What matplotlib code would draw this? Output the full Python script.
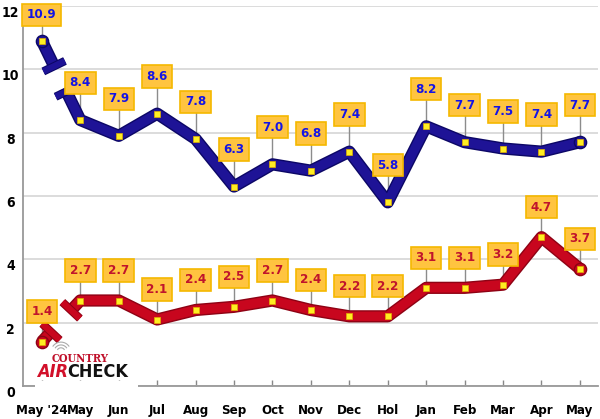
"""
Two-series monthly line chart with labelled points and a broken first segment
"""

import numpy as np
import matplotlib
matplotlib.use("Agg")
import matplotlib.pyplot as plt
import matplotlib.patheffects as pe
from matplotlib.transforms import ScaledTranslation

# data
months = ["May '24", "May", "Jun", "Jul", "Aug", "Sep", "Oct", "Nov",
          "Dec", "Hol", "Jan", "Feb", "Mar", "Apr", "May"]
blue_vals = [10.9, 8.4, 7.9, 8.6, 7.8, 6.3, 7.0, 6.8, 7.4, 5.8, 8.2, 7.7, 7.5, 7.4, 7.7]
red_vals = [1.4, 2.7, 2.7, 2.1, 2.4, 2.5, 2.7, 2.4, 2.2, 2.2, 3.1, 3.1, 3.2, 4.7, 3.7]
y_ticks = [0, 2, 4, 6, 8, 10, 12]

plt.rcParams['font.family'] = ['DejaVu Sans']
plt.rcParams['font.stretch'] = 'condensed'

fig = plt.figure(figsize=(6.0, 4.19), dpi=100)
ax = fig.add_axes([23 / 600, 33 / 419, 575 / 600, 380 / 419])
ax.set_xlim(-0.49, 14.47)
ax.set_ylim(0, 12)

x = np.arange(len(months))

# grid / axes styling
ax.set_yticks(y_ticks)
ax.yaxis.grid(True, color='#d9d9d9', lw=1.3)
ax.set_axisbelow(True)
for s in ['top', 'right']:
    ax.spines[s].set_visible(False)
for s in ['left', 'bottom']:
    ax.spines[s].set_color('#999999')
    ax.spines[s].set_linewidth(1.3)
ax.set_xticks(x)
ax.set_xticklabels(months, fontsize=9.5, fontweight='bold', fontstretch='condensed')
ax.tick_params(axis='x', direction='in', length=4, color='#888888', width=1, pad=13)
ax.tick_params(axis='y', length=0, pad=9)
ax.set_yticklabels([str(t) for t in y_ticks], fontsize=10, fontweight='bold',
                   fontstretch='condensed')
off = ScaledTranslation(0, -4 / 72, fig.dpi_scale_trans)
for lab in ax.get_yticklabels():
    lab.set_horizontalalignment('center')
    lab.set_transform(lab.get_transform() + off)


def draw_series(vals, main, dark, txt, lab_off, t_cut):
    vals = np.asarray(vals, dtype=float)
    effects = [pe.Stroke(linewidth=8.8, foreground=dark), pe.Normal()]
    # broken first segment
    t0, t1 = t_cut
    xa, ya = x[0] + t0 * (x[1] - x[0]), vals[0] + t0 * (vals[1] - vals[0])
    xb, yb = x[0] + t1 * (x[1] - x[0]), vals[0] + t1 * (vals[1] - vals[0])
    ax.plot([x[0], xa], [vals[0], ya], color=main, lw=6.8, solid_capstyle='butt',
            path_effects=effects, zorder=3)
    ax.plot([x[0]], [vals[0]], 'o', ms=8.8, color=main, mec=dark, mew=1, zorder=3)
    ax.plot(np.r_[xb, x[1:]], np.r_[yb, vals[1:]], color=main, lw=6.8,
            solid_capstyle='butt', solid_joinstyle='round',
            path_effects=effects, zorder=3)
    ax.plot([x[-1]], [vals[-1]], 'o', ms=8.8, color=main, mec=dark, mew=1, zorder=3)
    # T-shaped caps across the break
    p0 = ax.transData.transform((x[0], vals[0]))
    p1 = ax.transData.transform((x[1], vals[1]))
    d = (p1 - p0) / np.hypot(*(p1 - p0))
    n = np.array([-d[1], d[0]])
    for (cx, cy), sgn in [((xa, ya), -1), ((xb, yb), 1)]:
        c = ax.transData.transform((cx, cy)) + sgn * d * 3.5
        ends = ax.transData.inverted().transform([c - n * 12, c + n * 12])
        ax.plot(ends[:, 0], ends[:, 1], color=main, lw=4.5, solid_capstyle='butt',
                path_effects=[pe.Stroke(linewidth=6, foreground=dark), pe.Normal()],
                zorder=4)
    # point markers
    ax.plot(x, vals, ls='none', marker='s', ms=4, mfc='#ffee22', mec='#e0b000',
            mew=0.5, zorder=5)
    # labels with leader lines
    for xi, v in zip(x, vals):
        ly = min(v + lab_off, 11.72)
        ax.plot([xi, xi], [v, ly], color='#8c8c8c', lw=1, zorder=2)
        ax.text(xi, ly, f"{v:.1f}", ha='center', va='center', fontsize=9.5,
                fontweight='bold', fontstretch='condensed', color=txt, zorder=6,
                bbox=dict(boxstyle='square,pad=0.35', fc='#ffc440', ec='#f5b800', lw=1.2))


draw_series(blue_vals, '#1e1396', '#0c0766', '#1414e6', 1.17, (0.36, 0.6))
draw_series(red_vals, '#c8061e', '#8e0214', '#c0142c', 0.95, (0.3, 0.7))

# logo in lower left, blanking the axis behind it
ax.add_patch(plt.Rectangle((0.02, -0.012), 0.18, 0.024, transform=ax.transAxes,
                           fc='white', ec='none', zorder=4, clip_on=False))
ax.text(0.1, 0.072, "COUNTRY", transform=ax.transAxes, ha='center', va='center',
        fontsize=8, fontweight='bold', color='#c0102a', zorder=7, family='DejaVu Serif')
ax.text(0.079, 0.036, "AIR", transform=ax.transAxes, ha='right', va='center',
        fontsize=13, fontweight='bold', style='italic', color='#d2102a', zorder=7,
        family='DejaVu Sans')
ax.text(0.077, 0.036, "CHECK", transform=ax.transAxes, ha='left', va='center',
        fontsize=13, fontweight='bold', color='#111111', zorder=7, family='DejaVu Sans')
for r in [0.007, 0.012, 0.017]:
    th = np.linspace(np.pi * 0.2, np.pi * 0.8, 20)
    ax.plot(0.066 + r * np.cos(th), 0.09 + r * np.sin(th) * 1.5,
            color='#aaaaaa', lw=0.8, transform=ax.transAxes, zorder=7, clip_on=False)

fig.savefig('out.png', dpi=100)
